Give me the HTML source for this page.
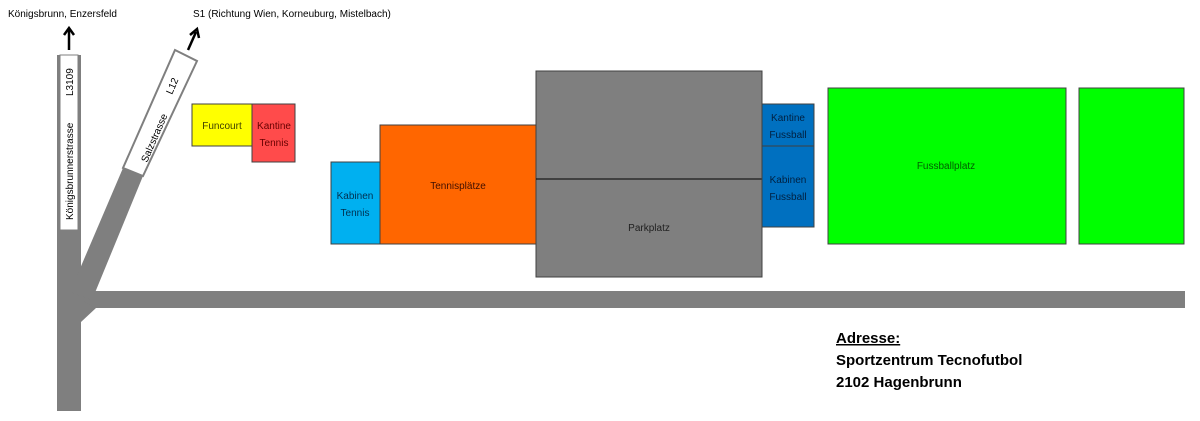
<!DOCTYPE html>
<html><head><meta charset="utf-8"><style>
html,body{margin:0;padding:0;background:#fff;width:1200px;height:421px;overflow:hidden}
svg{display:block}
text{font-family:"Liberation Sans",sans-serif}
</style></head><body>
<svg width="1200" height="421" viewBox="0 0 1200 421" xmlns="http://www.w3.org/2000/svg">
<rect width="1200" height="421" fill="#fff"/>
<!-- roads -->
<rect x="57" y="55" width="24" height="356" fill="#7f7f7f"/>
<rect x="81" y="291" width="1104" height="17" fill="#7f7f7f"/>
<polygon points="123,168 143,176 92,300 70,292" fill="#7f7f7f"/>
<polygon points="81,300 96,308 81,322" fill="#7f7f7f"/>
<!-- white road label boxes -->
<rect x="60" y="55" width="18" height="175" fill="#fff" stroke="#7f7f7f" stroke-width="1"/>
<polygon points="175,50 197,61 143,176 123,168" fill="#fff" stroke="#7f7f7f" stroke-width="2"/>
<text transform="translate(73,220) rotate(-90)" font-size="10" fill="#000">Königsbrunnerstrasse</text>
<text transform="translate(73,96) rotate(-90)" font-size="10" fill="#000">L3109</text>
<text transform="translate(147,163) rotate(-66.6)" font-size="10" fill="#000">Salzstrasse</text>
<text transform="translate(172,95) rotate(-66.6)" font-size="10" fill="#000">L12</text>
<!-- arrows -->
<line x1="69" y1="50" x2="69" y2="30" stroke="#000" stroke-width="2.5"/>
<polyline points="64,35 69,28 74,35" fill="none" stroke="#000" stroke-width="2.5"/>
<line x1="188" y1="50" x2="196" y2="32" stroke="#000" stroke-width="2.5"/>
<polyline points="190,35 197,29 199,38" fill="none" stroke="#000" stroke-width="2.5"/>
<text x="8" y="17" font-size="10" fill="#000">Königsbrunn, Enzersfeld</text>
<text x="193" y="17" font-size="10" fill="#000">S1 (Richtung Wien, Korneuburg, Mistelbach)</text>
<!-- buildings -->
<g stroke="#404040" stroke-width="1">
<rect x="192" y="104" width="60" height="42" fill="#ffff00"/>
<rect x="252" y="104" width="43" height="58" fill="#ff4b4b"/>
<rect x="331" y="162" width="49" height="82" fill="#00b0f0"/>
<rect x="380" y="125" width="156" height="119" fill="#ff6600"/>
<rect x="536" y="71" width="226" height="206" fill="#7f7f7f"/>
<line x1="536" y1="179" x2="762" y2="179" stroke="#000"/>
<rect x="762" y="104" width="52" height="123" fill="#0070c0"/>
<line x1="762" y1="146" x2="814" y2="146"/>
<rect x="828" y="88" width="238" height="156" fill="#00ff00"/>
<rect x="1079" y="88" width="105" height="156" fill="#00ff00"/>
</g>
<g font-size="10" text-anchor="middle">
<text x="222" y="129" fill="#404000">Funcourt</text>
<text x="274" y="129" fill="#600">Kantine</text>
<text x="274" y="146" fill="#600">Tennis</text>
<text x="355" y="199" fill="#003050">Kabinen</text>
<text x="355" y="216" fill="#003050">Tennis</text>
<text x="458" y="189" fill="#401000">Tennisplätze</text>
<text x="649" y="231" fill="#202020">Parkplatz</text>
<text x="788" y="121" fill="#002040">Kantine</text>
<text x="788" y="138" fill="#002040">Fussball</text>
<text x="788" y="183" fill="#002040">Kabinen</text>
<text x="788" y="200" fill="#002040">Fussball</text>
<text x="946" y="169" fill="#006000">Fussballplatz</text>
</g>
<g font-size="15" font-weight="bold" fill="#000">
<text x="836" y="343" text-decoration="underline">Adresse:</text>
<text x="836" y="365">Sportzentrum Tecnofutbol</text>
<text x="836" y="387">2102 Hagenbrunn</text>
</g>
</svg>
</body></html>
